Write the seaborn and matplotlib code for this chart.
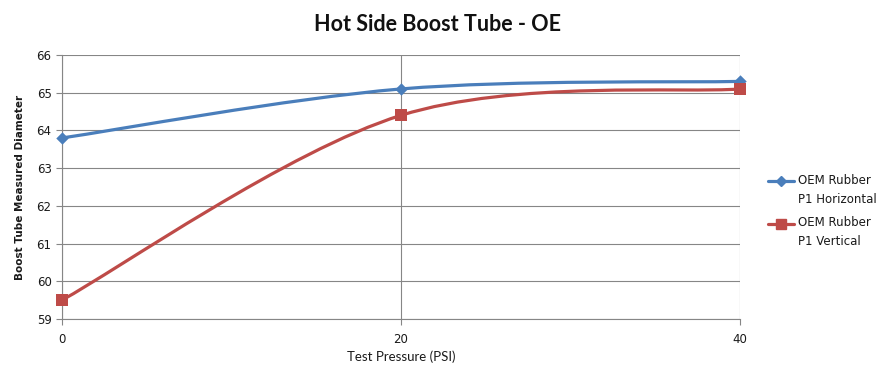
import numpy as np
import matplotlib
matplotlib.use("Agg")
import matplotlib.pyplot as plt
from matplotlib.path import Path
from matplotlib.patches import PathPatch
from matplotlib.lines import Line2D
from matplotlib.legend_handler import HandlerLine2D
import seaborn as sns

pressure = [0, 20, 40]
horizontal = [63.8, 65.1, 65.3]
vertical = [59.5, 64.4, 65.1]
series_names = ["OEM Rubber\nP1 Horizontal", "OEM Rubber\nP1 Vertical"]
x_ticks = [0, 20, 40]
y_ticks = [59, 60, 61, 62, 63, 64, 65, 66]

blue = "#4A7EBB"
red = "#BE4B48"
grid_c = "#868686"

sns.set_theme(style="white")
plt.rcParams["font.family"] = ["DejaVu Sans"]


def smooth_path(xs, ys):
    # Excel-style smoothed line: cubic bezier through points (catmull-rom, 1/6 tension)
    pts = np.column_stack([xs, ys]).astype(float)
    n = len(pts)
    verts = [pts[0]]
    codes = [Path.MOVETO]
    for i in range(n - 1):
        p_prev = pts[max(i - 1, 0)]
        p0, p1 = pts[i], pts[i + 1]
        p_next = pts[min(i + 2, n - 1)]
        c1 = p0 + (p1 - p_prev) / 6
        c2 = p1 - (p_next - p0) / 6
        verts += [c1, c2, p1]
        codes += [Path.CURVE4] * 3
    return Path(verts, codes)


class TopLineHandler(HandlerLine2D):
    # put the legend handle level with the first line of a two-line label
    def create_artists(self, legend, orig_handle, xdescent, ydescent,
                       width, height, fontsize, trans):
        arts = super().create_artists(legend, orig_handle, xdescent, ydescent,
                                      width, height, fontsize, trans)
        for a in arts:
            a.set_ydata(np.asarray(a.get_ydata()) + fontsize * 0.8)
        return arts


fig = plt.figure(figsize=(8.79, 3.82), dpi=100)
ax = fig.add_axes([0.0705, 0.165, 0.7715, 0.691])

for ys, col in [(horizontal, blue), (vertical, red)]:
    ax.add_patch(PathPatch(smooth_path(pressure, ys), facecolor="none",
                           edgecolor=col, lw=2.3, zorder=3, capstyle="round",
                           clip_on=False))

sns.scatterplot(x=pressure, y=horizontal, marker="D", s=40, color=blue,
                edgecolor=blue, linewidth=0, ax=ax, zorder=4, clip_on=False)
sns.scatterplot(x=pressure, y=vertical, marker="s", s=70, color=red,
                edgecolor=red, linewidth=0, ax=ax, zorder=4, clip_on=False)

ax.set_xlim(0, 40)
ax.set_ylim(59, 66)
ax.set_xticks(x_ticks)
ax.set_yticks(y_ticks)
ax.grid(True, color=grid_c, lw=0.8, zorder=0)
ax.set_axisbelow(True)
for side in ["top", "right"]:
    ax.spines[side].set_visible(False)
for side in ["left", "bottom"]:
    ax.spines[side].set_color(grid_c)
    ax.spines[side].set_linewidth(0.8)
ax.tick_params(axis="both", direction="out", length=4, width=0.8, color=grid_c,
               labelsize=8.5, labelcolor="#1a1a1a", bottom=True, left=True)
ax.tick_params(axis="x", pad=6)

ax.set_xlabel("Test Pressure (PSI)", family="Lato", fontsize=9.5,
              color="#1a1a1a", labelpad=3)
ax.set_ylabel("Boost Tube Measured Diameter", fontsize=7.5, fontweight="bold",
              color="#1a1a1a", labelpad=8)
fig.text(0.498, 0.935, "Hot Side Boost Tube - OE", family="Lato",
         fontweight="bold", fontsize=15.5, ha="center", va="center",
         color="#111111")

handles = [
    Line2D([], [], color=blue, lw=2.3, marker="D", markersize=5),
    Line2D([], [], color=red, lw=2.3, marker="s", markersize=7),
]
leg = fig.legend(handles, series_names, loc="center left",
                 bbox_to_anchor=(0.862, 0.448), frameon=False, fontsize=8.5,
                 handlelength=2.2, handletextpad=0.3, labelspacing=0.9,
                 labelcolor="#1a1a1a",
                 handler_map={Line2D: TopLineHandler()})
for t in leg.get_texts():
    t.set_linespacing(1.6)

fig.savefig("out.png", dpi=100, facecolor="white")
